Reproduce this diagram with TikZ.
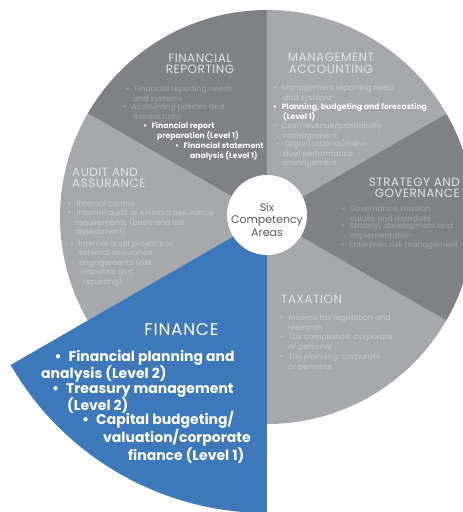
\documentclass[tikz,border=0pt]{standalone}
\usepackage{fontspec}
\setmainfont{Poppins}
\newfontfamily\headfont[LetterSpace=4]{Poppins}
\definecolor{segdark}{RGB}{128,129,132}
\definecolor{seglight}{RGB}{167,168,171}
\definecolor{finblue}{RGB}{61,120,187}
\definecolor{headgray}{RGB}{226,227,229}
\definecolor{dimdark}{RGB}{163,164,167}
\definecolor{dimlight}{RGB}{200,201,203}
\definecolor{hubgray}{RGB}{90,91,94}
\newcommand{\bul}{\makebox[8.5pt][l]{\textbullet}}
\newcommand{\bigbul}{\makebox[14pt][l]{\textbullet}}
\tikzset{
  segtitle/.style={text=headgray, font=\headfont\fontsize{12}{11.5}\selectfont, inner sep=0pt},
  ptdark/.style={text=dimdark, font=\fontsize{7.7}{9.5}\selectfont, align=left, anchor=base west, inner sep=0pt},
  ptlight/.style={ptdark, text=dimlight},
  ptkey/.style={ptdark, text=white, font=\bfseries\fontsize{7.7}{9.5}\selectfont},
  finpt/.style={ptkey, font=\bfseries\fontsize{14}{16.3}\selectfont}
}

\begin{document}
\begin{tikzpicture}[x=1pt, y=1pt]
  \useasboundingbox (-267, -295) rectangle (196, 217);
  \clip (-267, -295) rectangle (196, 217);
  % pie slices, finance pulled out with a larger radius
  \fill [segdark] (0, 0) -- (90:207) arc [start angle=90, end angle=150, radius=207] -- cycle;
  \fill [seglight] (0, 0) -- (150:207) arc [start angle=150, end angle=210, radius=207] -- cycle;
  \fill [seglight] (0, 0) -- (270:207) arc [start angle=270, end angle=330, radius=207] -- cycle;
  \fill [segdark] (0, 0) -- (-30:207) arc [start angle=-30, end angle=30, radius=207] -- cycle;
  \fill [seglight] (0, 0) -- (30:207) arc [start angle=30, end angle=90, radius=207] -- cycle;
  \fill [finblue] (0, 0) -- (210:296) arc [start angle=210, end angle=270, radius=296] -- cycle;
  % hub
  \node (hub) [circle, fill=white, minimum size=80, inner sep=0pt] at (0, 2) {};
  \node (hubtext) [text=hubgray, align=center, font=\fontsize{11}{12.5}\selectfont] at (0, -2.5) {Six\\Competency\\Areas};
  % financial reporting (base anchor sits on the last line)
  \node (frhead) [segtitle, align=center] at (-67, 153) {FINANCIAL\\REPORTING};
  \node (fra) [ptdark] at (-141, 116) {\bul Financial reporting needs\\\hspace*{7pt}and systems};
  \node (frb) [ptdark] at (-144, 98) {\bul Accounting policies and\\\hspace*{10pt}transactions};
  \node (frc) [ptkey] at (-124, 79) {\bul Financial report\\\hspace*{14pt}preparation (Level 1)};
  \node (frd) [ptkey] at (-92, 59) {\bul Financial statement\\\hspace*{15pt}analysis (Level 1)};
  % management accounting
  \node (mahead) [segtitle, align=center] at (64, 153.5) {MANAGEMENT\\ACCOUNTING};
  \node (maa) [ptlight] at (6, 117) {\bul Management reporting need\\\hspace*{10pt}and systems};
  \node (mab) [ptkey] at (6, 98) {\bul Planning, budgeting and forecasting\\\hspace*{10pt}(Level 1)};
  \node (mac) [ptlight] at (6, 79) {\bul Cost/revenue/profitability\\\hspace*{10pt}management};
  \node (mad) [ptlight] at (9, 51.5) {\bul Organizational/indivi-\\\hspace*{7pt}dual performance\\\hspace*{7pt}management};
  % strategy and governance
  \node (sghead) [segtitle, align=right, anchor=east] at (193, 29) {STRATEGY AND\\GOVERNANCE};
  \node (sga) [ptdark] at (74, -4) {\bul Governance, mission,\\\hspace*{9pt}values and mandate};
  \node (sgb) [ptdark] at (74, -21) {\bul Strategy development and\\\hspace*{9pt}implementation};
  \node (sgc) [ptdark] at (74, -30.5) {\bul Enterprise risk management};
  % audit and assurance
  \node (auhead) [segtitle, align=left, anchor=west] at (-195, 39) {AUDIT AND\\ASSURANCE};
  \node (aua) [ptlight] at (-199, 10.5) {\bul Internal control};
  \node (aub) [ptlight] at (-199, -17.5) {\bul Internal audit or external assurance\\\hspace*{7pt}requirements (basis and risk\\\hspace*{8pt}assessment)};
  \node (auc) [ptlight] at (-197, -67) {\bul Internal audit projects or\\\hspace*{9pt}external assurance\\\hspace*{9pt}engagements (risk\\\hspace*{10pt}response and\\\hspace*{13pt}reporting)};
  % taxation
  \node (txhead) [segtitle, anchor=west] at (14, -82) {TAXATION};
  \node (txa) [ptlight] at (13, -113) {\bul Income tax legislation and\\\hspace*{8pt}research};
  \node (txb) [ptlight] at (13, -132) {\bul Tax compliance: corporate\\\hspace*{8pt}or personal};
  \node (txc) [ptlight] at (13, -152) {\bul Tax planning: corporate\\\hspace*{8pt}or personal};
  % finance
  \node (fihead) [segtitle, text=white, font=\headfont\fontsize{17}{18}\selectfont] at (-85.5, -113) {FINANCE};
  \node (fia) [finpt] at (-226, -161.8) {\hspace*{13.5pt}\bigbul Financial planning and\\analysis (Level 2)};
  \node (fib) [finpt] at (-215, -193.8) {\bigbul Treasury management\\\hspace*{15pt}(Level 2)};
  \node (fic) [finpt] at (-185, -243) {\bigbul Capital budgeting/\\\hspace*{21pt}valuation/corporate\\\hspace*{46pt}finance (Level 1)};
\end{tikzpicture}
\end{document}
